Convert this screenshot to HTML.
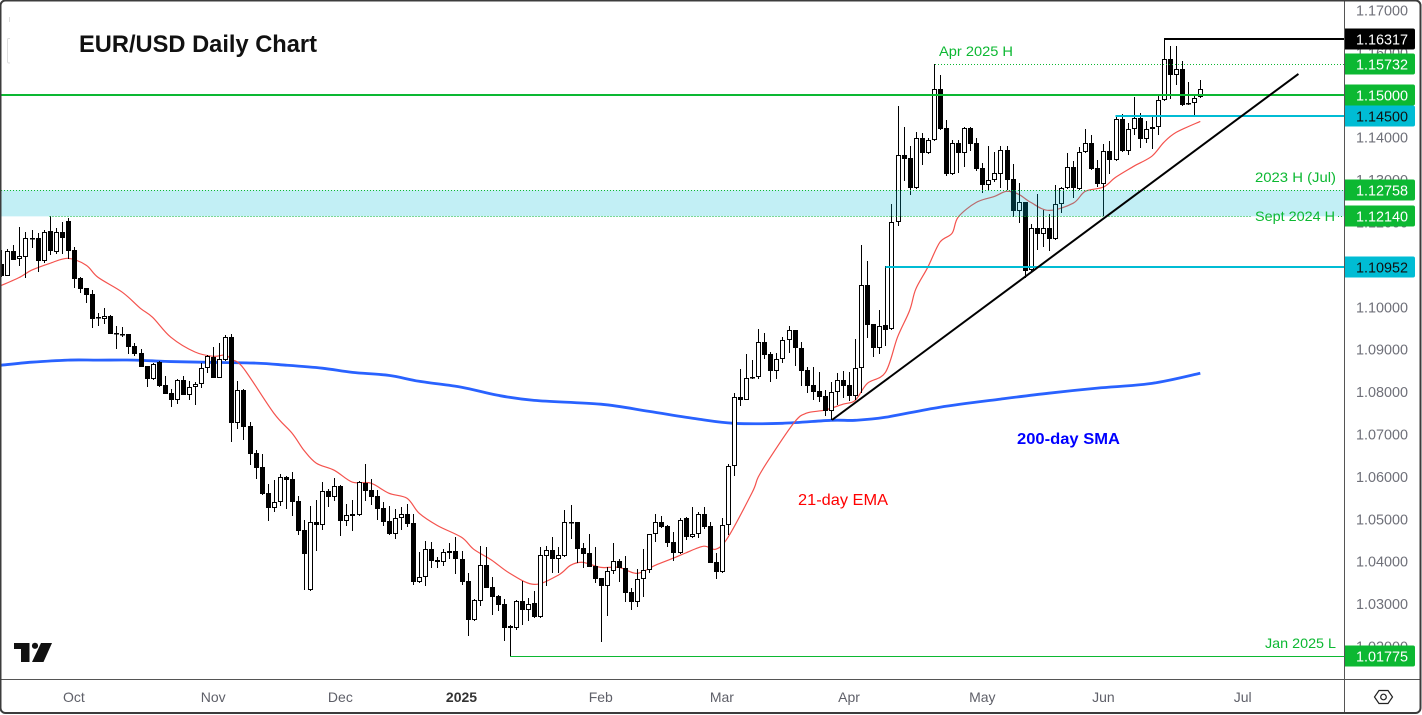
<!DOCTYPE html>
<html lang="en">
<head>
<meta charset="utf-8">
<title>EUR/USD Daily Chart</title>
<style>
html,body{margin:0;padding:0;background:#fff;width:1422px;height:715px;overflow:hidden}
svg{display:block;font-family:"Liberation Sans",Arial,sans-serif}
</style>
</head>
<body>
<svg id="chart" xmlns="http://www.w3.org/2000/svg" width="1422" height="715" viewBox="0 0 1422 715">
  <rect x="0" y="0" width="1422" height="715" fill="#ffffff"/>
  <g id="lines-under"></g>
  <g id="candles"></g>
  <g id="levels"></g>
  <g id="axis"></g>
  <g id="time-axis"></g>

  <path d="M9.5 17V22M10 38.5H8.5Q7.5 38.5 7.5 40V61.5Q7.5 63 9 63H10" fill="none" stroke="#dedede" stroke-width="1"/>
  <text x="79" y="52" font-size="24" font-weight="700" fill="#111" textLength="238" lengthAdjust="spacingAndGlyphs">EUR/USD Daily Chart</text>
  <text x="939" y="56" font-size="14" fill="#0cb832" textLength="74" lengthAdjust="spacingAndGlyphs">Apr 2025 H</text>
  <text x="1255" y="182" font-size="14" fill="#0cb832" textLength="81" lengthAdjust="spacingAndGlyphs">2023 H (Jul)</text>
  <text x="1255" y="221" font-size="14" fill="#0cb832" textLength="80" lengthAdjust="spacingAndGlyphs">Sept 2024 H</text>
  <text x="1265" y="648" font-size="14" fill="#0cb832" textLength="71" lengthAdjust="spacingAndGlyphs">Jan 2025 L</text>
  <text x="1017" y="444" font-size="16" font-weight="700" fill="#0000ff" textLength="103" lengthAdjust="spacingAndGlyphs">200-day SMA</text>
  <text x="798" y="505" font-size="16" fill="#ff0000" textLength="90" lengthAdjust="spacingAndGlyphs">21-day EMA</text>

  <g fill="#111">
    <path d="M14 643H29.5V662H21V649H14Z"/>
    <circle cx="35" cy="645.8" r="3.1"/>
    <path d="M41 643H52L43.5 662H32Z"/>
  </g>
  <g fill="none" stroke="#222" stroke-width="1.2">
    <path d="M1374.5 697L1379 690.5H1388L1392.5 697L1388 703.5H1379Z"/>
    <circle cx="1383.5" cy="697" r="2.8"/>
  </g>
  <line x1="1344.5" y1="0" x2="1344.5" y2="713" stroke="#555" stroke-width="1"/>
  <line x1="0" y1="679.5" x2="1421" y2="679.5" stroke="#555" stroke-width="1"/>
  <rect x="0.5" y="0.5" width="1420" height="712.5" rx="5" fill="none" stroke="#3c3c3c" stroke-width="2"/>
</svg>
<script>
const firstBar = -1;
const opens = [
1.1101,1.1073,1.1132,1.1113,1.1118,1.1163,1.1162,1.1108,1.1179,1.1129,
1.1176,1.1203,1.1134,1.1068,1.1044,1.1031,1.0975,1.0973,1.0980,1.0938,
1.0936,1.0936,1.0908,1.0891,1.0861,1.0830,1.0870,1.0816,1.0797,1.0782,
1.0827,1.0792,1.0811,1.0818,1.0856,1.0882,1.0832,1.0875,1.0929,1.0726,
1.0804,1.0719,1.0655,1.0622,1.0561,1.0525,1.0540,1.0599,1.0594,1.0542,
1.0474,1.0332,1.0492,1.0485,1.0566,1.0551,1.0578,1.0495,1.0511,1.0509,
1.0585,1.0568,1.0554,1.0525,1.0495,1.0466,1.0502,1.0511,1.0490,1.0351,
1.0363,1.0429,1.0403,1.0398,1.0424,1.0424,1.0406,1.0353,1.0261,1.0306,
1.0391,1.0339,1.0318,1.0299,1.0243,1.0243,1.0306,1.0285,1.0301,1.0268,
1.0413,1.0427,1.0406,1.0413,1.0492,1.0492,1.0431,1.0420,1.0389,1.0360,
1.0342,1.0377,1.0401,1.0384,1.0327,1.0304,1.0358,1.0379,1.0464,1.0492,
1.0483,1.0445,1.0420,1.0502,1.0457,1.0466,1.0511,1.0483,1.0398,1.0375,
1.0485,1.0625,1.0787,1.0782,1.0832,1.0836,1.0917,1.0889,1.0849,1.0877,
1.0922,1.0945,1.0903,1.0851,1.0816,1.0801,1.0790,1.0754,1.0799,1.0827,
1.0816,1.0790,1.0856,1.1051,1.0960,1.0903,1.0957,1.0948,1.1200,1.1358,
1.1351,1.1281,1.1400,1.1363,1.1393,1.1514,1.1422,1.1314,1.1388,1.1363,
1.1422,1.1386,1.1327,1.1287,1.1299,1.1314,1.1370,1.1301,1.1226,1.1247,
1.1087,1.1186,1.1172,1.1186,1.1160,1.1243,1.1281,1.1330,1.1279,1.1365,
1.1386,1.1327,1.1290,1.1367,1.1346,1.1443,1.1367,1.1419,1.1445,1.1396,
1.1419,1.1424,1.1488,1.1585,1.1547,1.1561,1.1481,1.1481,1.1495];
const highs = [
1.1134,1.1136,1.1146,1.1188,1.1176,1.1181,1.1174,1.1181,1.1214,1.1186,
1.1200,1.1209,1.1141,1.1070,1.1046,1.1040,1.0985,1.0997,1.0981,1.0955,
1.0952,1.0937,1.0915,1.0900,1.0861,1.0868,1.0872,1.0837,1.0806,1.0830,
1.0837,1.0825,1.0823,1.0868,1.0886,1.0905,1.0915,1.0934,1.0936,1.0825,
1.0806,1.0729,1.0662,1.0653,1.0582,1.0592,1.0606,1.0601,1.0610,1.0554,
1.0497,1.0530,1.0544,1.0587,1.0570,1.0596,1.0580,1.0535,1.0544,1.0589,
1.0629,1.0594,1.0568,1.0540,1.0530,1.0523,1.0528,1.0535,1.0511,1.0422,
1.0448,1.0445,1.0410,1.0429,1.0443,1.0457,1.0424,1.0372,1.0311,1.0436,
1.0434,1.0363,1.0320,1.0311,1.0250,1.0309,1.0353,1.0313,1.0330,1.0434,
1.0436,1.0457,1.0434,1.0521,1.0533,1.0494,1.0443,1.0466,1.0434,1.0361,
1.0387,1.0443,1.0406,1.0413,1.0337,1.0382,1.0429,1.0466,1.0513,1.0507,
1.0485,1.0469,1.0502,1.0504,1.0528,1.0516,1.0528,1.0492,1.0420,1.0502,
1.0629,1.0797,1.0853,1.0889,1.0875,1.0948,1.0938,1.0894,1.0891,1.0929,
1.0955,1.0947,1.0917,1.0858,1.0858,1.0846,1.0804,1.0823,1.0844,1.0849,
1.0846,1.0924,1.1146,1.1108,1.0961,1.0992,1.1096,1.1243,1.1474,1.1424,
1.1379,1.1412,1.1410,1.1398,1.1573,1.1547,1.1441,1.1393,1.1393,1.1424,
1.1424,1.1400,1.1341,1.1381,1.1365,1.1381,1.1379,1.1337,1.1292,1.1249,
1.1195,1.1266,1.1228,1.1219,1.1287,1.1283,1.1363,1.1344,1.1377,1.1419,
1.1407,1.1346,1.1384,1.1391,1.1450,1.1455,1.1434,1.1495,1.1457,1.1438,
1.1448,1.1502,1.1632,1.1615,1.1615,1.1580,1.1530,1.1500,1.1535];
const lows = [
1.1070,1.1073,1.1110,1.1096,1.1068,1.1139,1.1082,1.1103,1.1122,1.1125,
1.1125,1.1113,1.1046,1.1033,1.1009,1.0950,1.0955,1.0960,1.0936,1.0900,
1.0929,1.0889,1.0884,1.0858,1.0811,1.0827,1.0811,1.0795,1.0764,1.0771,
1.0792,1.0782,1.0768,1.0809,1.0844,1.0832,1.0832,1.0872,1.0681,1.0712,
1.0686,1.0627,1.0594,1.0556,1.0495,1.0516,1.0530,1.0523,1.0507,1.0462,
1.0332,1.0330,1.0425,1.0474,1.0528,1.0542,1.0459,1.0483,1.0471,1.0507,
1.0542,1.0533,1.0497,1.0483,1.0462,1.0452,1.0474,1.0481,1.0344,1.0349,
1.0342,1.0384,1.0384,1.0389,1.0406,1.0370,1.0344,1.0224,1.0259,1.0295,
1.0337,1.0273,1.0283,1.0212,1.0178,1.0238,1.0250,1.0259,1.0266,1.0266,
1.0342,1.0372,1.0372,1.0410,1.0452,1.0396,1.0384,1.0386,1.0349,1.0209,
1.0271,1.0370,1.0351,1.0304,1.0285,1.0292,1.0316,1.0372,1.0445,1.0480,
1.0434,1.0401,1.0418,1.0450,1.0455,1.0455,1.0476,1.0396,1.0358,1.0373,
1.0462,1.0601,1.0766,1.0780,1.0830,1.0830,1.0877,1.0823,1.0830,1.0868,
1.0891,1.0861,1.0813,1.0797,1.0780,1.0776,1.0743,1.0733,1.0768,1.0785,
1.0778,1.0780,1.0797,1.0927,1.0882,1.0889,1.0908,1.0945,1.1191,1.1297,
1.1264,1.1279,1.1334,1.1361,1.1391,1.1417,1.1309,1.1312,1.1316,1.1330,
1.1368,1.1320,1.1269,1.1273,1.1295,1.1281,1.1276,1.1212,1.1198,1.1068,
1.1085,1.1134,1.1141,1.1132,1.1158,1.1221,1.1279,1.1257,1.1276,1.1363,
1.1323,1.1283,1.1214,1.1313,1.1344,1.1365,1.1358,1.1405,1.1375,1.1386,
1.1372,1.1405,1.1486,1.1490,1.1523,1.1474,1.1476,1.1448,1.1493];
const closes = [
1.1073,1.1132,1.1110,1.1120,1.1162,1.1161,1.1108,1.1176,1.1132,1.1176,
1.1162,1.1132,1.1066,1.1042,1.1028,1.0973,1.0976,1.0980,1.0936,1.0937,
1.0935,1.0905,1.0889,1.0858,1.0830,1.0865,1.0813,1.0795,1.0780,1.0827,
1.0792,1.0811,1.0818,1.0856,1.0884,1.0832,1.0877,1.0929,1.0726,1.0804,
1.0717,1.0653,1.0620,1.0559,1.0525,1.0540,1.0599,1.0592,1.0540,1.0471,
1.0417,1.0492,1.0485,1.0566,1.0551,1.0578,1.0495,1.0509,1.0507,1.0587,
1.0566,1.0551,1.0523,1.0492,1.0466,1.0502,1.0511,1.0488,1.0351,1.0363,
1.0429,1.0401,1.0398,1.0422,1.0420,1.0406,1.0351,1.0261,1.0309,1.0391,
1.0337,1.0316,1.0297,1.0243,1.0247,1.0306,1.0285,1.0299,1.0268,1.0415,
1.0427,1.0406,1.0415,1.0492,1.0490,1.0429,1.0417,1.0386,1.0358,1.0342,
1.0377,1.0401,1.0384,1.0325,1.0304,1.0358,1.0379,1.0464,1.0492,1.0481,
1.0443,1.0420,1.0499,1.0457,1.0466,1.0511,1.0481,1.0396,1.0375,1.0485,
1.0625,1.0787,1.0782,1.0832,1.0836,1.0917,1.0886,1.0849,1.0877,1.0922,
1.0945,1.0903,1.0849,1.0813,1.0799,1.0787,1.0754,1.0799,1.0827,1.0813,
1.0790,1.0856,1.1051,1.0957,1.0903,1.0955,1.0945,1.1200,1.1358,1.1349,
1.1281,1.1400,1.1363,1.1393,1.1514,1.1419,1.1314,1.1388,1.1363,1.1422,
1.1384,1.1325,1.1287,1.1299,1.1316,1.1370,1.1299,1.1226,1.1247,1.1085,
1.1186,1.1172,1.1186,1.1160,1.1243,1.1281,1.1330,1.1281,1.1365,1.1386,
1.1325,1.1290,1.1367,1.1346,1.1443,1.1367,1.1419,1.1445,1.1396,1.1419,
1.1424,1.1488,1.1585,1.1547,1.1561,1.1476,1.1479,1.1493,1.1514];

const emaBars = [-1,2,4,7,10,13,15,19,22,24,27,31,34,36,37,39,44,47,49,51,54,57,60,63,66,68,71,75,77,80,83,87,91,93,95,98,101,104,107,110,112,115,117,119,123,124,126,130,132,135,138,140,142,145,147,149,150,152,154,156,157,160,163,165,167,169,172,176,178,181,183,186,189,191,193,197];
const emaValues = [1.1051,1.1070,1.1087,1.1103,1.1115,1.1099,1.1070,1.1035,1.0997,1.0976,1.0929,1.0894,1.0884,1.0887,1.0877,1.0856,1.0750,1.0703,1.0662,1.0632,1.0615,1.0587,1.0585,1.0561,1.0549,1.0514,1.0485,1.0457,1.0429,1.0403,1.0372,1.0346,1.0368,1.0391,1.0398,1.0386,1.0386,1.0372,1.0391,1.0408,1.0420,1.0436,1.0429,1.0457,1.0563,1.0599,1.0646,1.0729,1.0750,1.0757,1.0771,1.0780,1.0820,1.0846,1.0929,1.0992,1.1042,1.1094,1.1153,1.1174,1.1212,1.1247,1.1261,1.1273,1.1266,1.1247,1.1228,1.1245,1.1273,1.1283,1.1306,1.1332,1.1356,1.1389,1.1412,1.1438];
const smaBars = [-1,4,10,15,21,26,32,41,46,52,57,63,68,75,81,87,98,106,114,120,128,136,140,145,154,164,172,180,189,197];
const smaValues = [1.0863,1.0870,1.0875,1.0875,1.0875,1.0872,1.0870,1.0868,1.0863,1.0856,1.0846,1.0839,1.0825,1.0811,1.0792,1.0780,1.0771,1.0754,1.0736,1.0726,1.0726,1.0733,1.0733,1.0740,1.0764,1.0783,1.0797,1.0809,1.0820,1.0844];

const trendBars = [136.2, 213.2];
const trendPrices = [1.0734, 1.1550];

const priceTicks = [1.17,1.16,1.15,1.14,1.13,1.12,1.11,1.10,1.09,1.08,1.07,1.06,1.05,1.04,1.03,1.02];
const tagPrices = [1.16317,1.15732,1.15,1.145,1.12758,1.1214,1.10952,1.01775];
const tagLabels = ["1.16317","1.15732","1.15000","1.14500","1.12758","1.12140","1.10952","1.01775"];
const tagNames = ["high-tag","apr-high-tag","round-level-tag","support-tag","2023-high-tag","sept-high-tag","may-low-tag","jan-low-tag"];
const tagFill = ["#000000","#0cb832","#0cb832","#00bcd4","#0cb832","#0cb832","#00bcd4","#0cb832"];
const tagInk = ["#ffffff","#ffffff","#ffffff","#111111","#ffffff","#ffffff","#111111","#ffffff"];

const monthLabels = ["Oct","Nov","Dec","2025","Feb","Mar","Apr","May","Jun","Jul"];
const monthBars = [11,34,55,75,98,118,139,161,181,204];

const NS = "http://www.w3.org/2000/svg";
const xScale = b => 7.3 + 6.056 * b;
const yScale = p => 10.3 + (1.17 - p) * 4240;
const plotRight = 1344;

function add(parent, tag, attrs, name) {
  const el = document.createElementNS(NS, tag);
  for (const k in attrs) el.setAttribute(k, attrs[k]);
  
  
  parent.appendChild(el);
  return el;
}

function smoothPath(bars, vals) {
  const pts = bars.map((b, i) => [xScale(b), yScale(vals[i])]);
  let d = 'M' + pts[0][0].toFixed(1) + ' ' + pts[0][1].toFixed(1);
  for (let i = 0; i < pts.length - 1; i++) {
    const p0 = pts[Math.max(0, i - 1)], p1 = pts[i], p2 = pts[i + 1], p3 = pts[Math.min(pts.length - 1, i + 2)];
    const c1x = p1[0] + (p2[0] - p0[0]) / 6, c1y = p1[1] + (p2[1] - p0[1]) / 6;
    const c2x = p2[0] - (p3[0] - p1[0]) / 6, c2y = p2[1] - (p3[1] - p1[1]) / 6;
    d += 'C' + c1x.toFixed(1) + ' ' + c1y.toFixed(1) + ' ' + c2x.toFixed(1) + ' ' + c2y.toFixed(1) + ' ' + p2[0].toFixed(1) + ' ' + p2[1].toFixed(1);
  }
  return d;
}

const under = document.getElementById('lines-under');
add(under, 'path', {d: smoothPath(smaBars, smaValues), fill: 'none', stroke: '#2962ff', 'stroke-width': 2.8, 'stroke-linejoin': 'round'}, 'sma-200-line');
add(under, 'path', {d: smoothPath(emaBars, emaValues), fill: 'none', stroke: '#f4524d', 'stroke-width': 1.2, 'stroke-linejoin': 'round'}, 'ema-21-line');

const candleGroup = document.getElementById('candles');
opens.forEach((o, i) => {
  const b = i + firstBar;
  const c = closes[i];
  const cx = Math.round(xScale(b));
  const g = add(candleGroup, 'g', {'shape-rendering': 'crispEdges'}, 'candle');
  add(g, 'rect', {x: cx, y: Math.round(yScale(highs[i])), width: 1, height: Math.max(1, Math.round(yScale(lows[i])) - Math.round(yScale(highs[i])))}, 'candle-wick');
  const top = Math.round(yScale(Math.max(o, c)));
  const bot = Math.round(yScale(Math.min(o, c)));
  const h = bot - top;
  if (h < 2) {
    add(g, 'rect', {x: cx - 2, y: top, width: 5, height: 1.6, fill: '#000'}, 'candle-body');
  } else if (c < o) {
    add(g, 'rect', {x: cx - 2, y: top, width: 5, height: h, fill: '#000'}, 'candle-body');
  } else {
    add(g, 'rect', {x: cx - 1.5, y: top + 0.5, width: 4, height: h - 1, fill: '#fff', stroke: '#000', 'stroke-width': 1}, 'candle-body');
  }
});

const levels = document.getElementById('levels');
function hLine(price, x1, x2, color, width, dash, name) {
  const y = Math.round(yScale(price)) + (width % 2 ? 0.5 : 0);
  const attrs = {x1: x1, x2: x2, y1: y, y2: y, stroke: color, 'stroke-width': width, 'shape-rendering': 'crispEdges'};
  if (dash) attrs['stroke-dasharray'] = dash;
  return add(levels, 'line', attrs, name);
}
add(levels, 'rect', {x: 1, y: yScale(1.12758), width: plotRight - 1, height: yScale(1.1214) - yScale(1.12758), fill: 'rgba(0,188,212,0.24)'}, 'resistance-zone');
hLine(1.12758, 1, plotRight, '#0cb832', 1, '1 2', '2023-high-line');
hLine(1.1214, xScale(7), 1251, '#0cb832', 1, '1 2', 'sept-2024-high-line');
hLine(1.1214, 1338, plotRight, '#0cb832', 1, '1 2', 'sept-2024-high-line-end');
hLine(1.15732, xScale(153.2), plotRight, '#0cb832', 1, '1 2', 'apr-2025-high-line');
hLine(1.15, 1, plotRight, '#0cb832', 2, null, 'round-level-line');
hLine(1.16317, xScale(191), plotRight, '#000', 2, null, 'recent-high-line');
hLine(1.145, xScale(183), plotRight, '#00bcd4', 2, null, 'support-line');
hLine(1.10952, xScale(145), plotRight, '#00bcd4', 2, null, 'may-low-line');
hLine(1.01775, xScale(83), plotRight, '#0cb832', 1, null, 'jan-2025-low-line');
add(levels, 'line', {x1: xScale(trendBars[0]), y1: yScale(trendPrices[0]), x2: xScale(trendBars[1]), y2: yScale(trendPrices[1]), stroke: '#000', 'stroke-width': 2}, 'uptrend-line');

const axis = document.getElementById('axis');
add(axis, 'rect', {x: 1345, y: 1, width: 75, height: 678, fill: '#fff'}, 'price-axis-background');
priceTicks.forEach(p => {
  const t = add(axis, 'text', {x: 1356, y: yScale(p) + 5.2, 'font-size': 14.4, fill: '#6f7079'}, 'price-tick-label');
  t.textContent = p.toFixed(5);
});
tagPrices.forEach((p, i) => {
  const y = Math.round(yScale(p)) - 10.5;
  add(axis, 'path', {d: 'M1345 ' + y + 'H1413a2 2 0 0 1 2 2V' + (y + 19) + 'a2 2 0 0 1 -2 2H1345Z', fill: tagFill[i]}, tagNames[i] + '-box');
  const t = add(axis, 'text', {x: 1356, y: y + 16, 'font-size': 14.4, fill: tagInk[i]}, tagNames[i]);
  t.textContent = tagLabels[i];
});

const timeAxis = document.getElementById('time-axis');
monthLabels.forEach((m, i) => {
  const attrs = {x: xScale(monthBars[i]), y: 702, 'font-size': 14, fill: m === '2025' ? '#333' : '#5f6069', 'text-anchor': 'middle'};
  if (m === '2025') attrs['font-weight'] = 700;
  const t = add(timeAxis, 'text', attrs, 'time-axis-label');
  t.textContent = m;
});
</script>
</body>
</html>
